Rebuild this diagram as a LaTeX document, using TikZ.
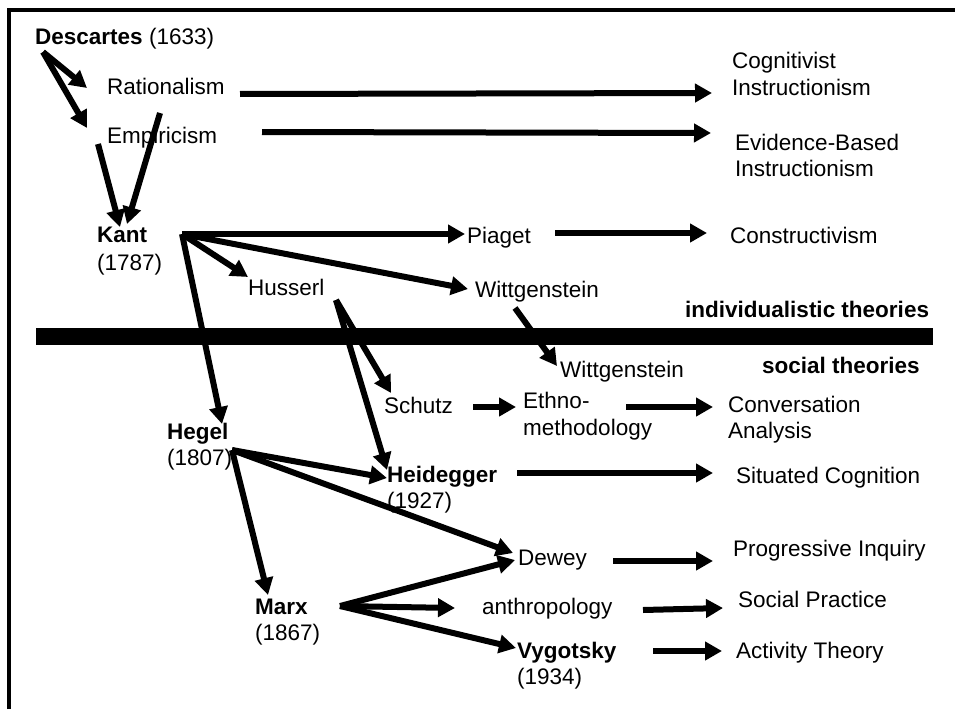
\documentclass[tikz,border=0pt]{standalone}
\usepackage{fontspec}
\setmainfont{Liberation Sans}
\usetikzlibrary{arrows.meta}

\begin{document}
\begin{tikzpicture}[x=1pt, y=-1pt,
    font=\fontsize{22.5}{26}\selectfont,
    lbl/.style={anchor=base west, inner sep=0pt},
    arr/.style={line width=6pt, -{Triangle[length=17pt,width=18pt]}}]

    \useasboundingbox (0,0) rectangle (955,709);

    % frame and divider
    \draw[line width=4pt] (9,709) -- (9,10.5) -- (955,10.5);
    \fill (36,328) rectangle (933,345);

    \begin{scope}[every node/.style={lbl}]
    \node(desc) at (35,45) {\textbf{Descartes} (1633)};
    \node(rat) at (107,94) {Rationalism};
    \node(emp) at (107,143) {Empiricism};
    \node(cog) at (732,68) {Cognitivist};
    \node(cogb) at (732,95) {Instructionism};
    \node(evid) at (735,150) {Evidence-Based};
    \node(evidb) at (735,176) {Instructionism};
    \node(kant) at (97,242) {\textbf{Kant}};
    \node(kantyr) at (97,270) {(1787)};
    \node(piaget) at (467,243) {Piaget};
    \node(constr) at (730,243) {Constructivism};
    \node(husserl) at (248,295) {Husserl};
    \node(witt) at (475,297) {Wittgenstein};
    \node(indiv) at (685,317) {\textbf{individualistic theories}};
    \node(social) at (762,373) {\textbf{social theories}};
    \node(wittb) at (560,377) {Wittgenstein};
    \node(schutz) at (384,413) {Schutz};
    \node(ethno) at (523,408) {Ethno-};
    \node(ethnob) at (523,435) {methodology};
    \node(conv) at (728,412) {Conversation};
    \node(convb) at (728,438) {Analysis};
    \node(hegel) at (167,439) {\textbf{Hegel}};
    \node(hegelyr) at (167,465) {(1807)};
    \node(heid) at (387,482) {\textbf{Heidegger}};
    \node(heidyr) at (387,508) {(1927)};
    \node(sit) at (736,483) {Situated Cognition};
    \node(dewey) at (518,565) {Dewey};
    \node(prog) at (733,556) {Progressive Inquiry};
    \node(marx) at (255,614) {\textbf{Marx}};
    \node(marxyr) at (255,640) {(1867)};
    \node(anth) at (482,614) {anthropology};
    \node(soc) at (738,607) {Social Practice};
    \node(vyg) at (517,658) {\textbf{Vygotsky}};
    \node(vygyr) at (517,684) {(1934)};
    \node(act) at (736,658) {Activity Theory};
    \end{scope}

    % upper half
    \draw[arr] ([shift={(8,7)}]desc.base west) -- ([shift={(-20,-6)}]rat.base west);
    \draw[arr] ([shift={(8,7)}]desc.base west) -- ([shift={(-20,-15)}]emp.base west);
    \draw[arr] ([shift={(-9,1)}]emp.base west) -- ([shift={(23,-15)}]kant.base west);
    \draw[arr] ([shift={(53,19)}]rat.base west) -- ([shift={(30,-18)}]kant.base west);
    \draw[arr] ([shift={(133,0)}]rat.base west) -- ([shift={(-20,-2)}]cogb.base west);
    \draw[arr] ([shift={(155,-11)}]emp.base west) -- ([shift={(-24,-17)}]evid.base west);
    \draw[arr] ([shift={(85,-8)}]kant.base west) -- ([shift={(-2,-9)}]piaget.base west);
    \draw[arr] ([shift={(88,-10)}]piaget.base west) -- ([shift={(-23,-10)}]constr.base west);
    \draw[arr] ([shift={(85,-8)}]kant.base west) -- ([shift={(0,-18)}]husserl.base west);
    \draw[arr] ([shift={(85,-8)}]kant.base west) -- ([shift={(-7,-8)}]witt.base west);
    \draw[arr] ([shift={(85,-8)}]kant.base west) -- ([shift={(55,-15)}]hegel.base west);
    \draw[arr] ([shift={(88,5)}]husserl.base west) -- ([shift={(7,-20)}]schutz.base west);
    \draw[arr] ([shift={(88,5)}]husserl.base west) -- ([shift={(0,-12)}]heid.base west);
    \draw[arr] ([shift={(40,11)}]witt.base west) -- ([shift={(-3,-11)}]wittb.base west);

    % lower half
    \draw[arr] ([shift={(89,-6)}]schutz.base west) -- ([shift={(-7,-1)}]ethno.base west);
    \draw[arr] ([shift={(103,-1)}]ethno.base west) -- ([shift={(-15,-5)}]conv.base west);
    \draw[arr] ([shift={(65,11)}]hegel.base west) -- ([shift={(0,-4)}]heid.base west);
    \draw[arr] ([shift={(65,11)}]hegel.base west) -- ([shift={(-5,-12)}]dewey.base west);
    \draw[arr] ([shift={(65,11)}]hegel.base west) -- ([shift={(13,-19)}]marx.base west);
    \draw[arr] ([shift={(130,-9)}]heid.base west) -- ([shift={(-23,-10)}]sit.base west);
    \draw[arr] ([shift={(85,-8)}]marx.base west) -- ([shift={(-3,-5)}]dewey.base west);
    \draw[arr] ([shift={(85,-8)}]marx.base west) -- ([shift={(-27,-6)}]anth.base west);
    \draw[arr] ([shift={(85,-8)}]marx.base west) -- ([shift={(-1,-10)}]vyg.base west);
    \draw[arr] ([shift={(95,-4)}]dewey.base west) -- ([shift={(-20,5)}]prog.base west);
    \draw[arr] ([shift={(161,-4)}]anth.base west) -- ([shift={(-15,1)}]soc.base west);
    \draw[arr] ([shift={(136,-7)}]vyg.base west) -- ([shift={(-14,-7)}]act.base west);

\end{tikzpicture}
\end{document}
